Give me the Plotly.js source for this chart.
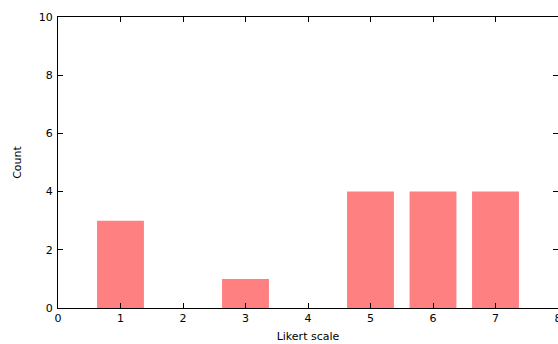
<!DOCTYPE html>
<html>
<head>
<meta charset="utf-8">
<script src="https://cdn.plot.ly/plotly-3.0.1.min.js"></script>
<style>html,body{margin:0;padding:0;background:#fff;overflow:hidden;}#chart{width:558px;height:344px;}</style>
</head>
<body>
<div id="chart"></div>
<script>
const likert = [1, 2, 3, 4, 5, 6, 7];
const counts = [3, 0, 1, 0, 4, 4, 4];
const xTicks = [0, 1, 2, 3, 4, 5, 6, 7, 8];
const yTicks = [0, 2, 4, 6, 8, 10];

const fontFam = 'DejaVu Sans, sans-serif';
Plotly.newPlot('chart', [{
  type: 'bar',
  x: likert,
  y: counts,
  width: 0.75,
  marker: {color: '#ff8080', line: {width: 0}},
  hoverinfo: 'none',
  cliponaxis: false
}], {
  width: 558, height: 344,
  margin: {l: 58, r: 0, t: 17, b: 36, pad: 0},
  paper_bgcolor: '#fff', plot_bgcolor: '#fff',
  showlegend: false,
  font: {family: fontFam, size: 11, color: '#000'},
  xaxis: {
    range: [0, 8], tickvals: xTicks, ticktext: xTicks.map(String),
    ticks: 'inside', ticklen: 5, tickwidth: 1, tickcolor: '#000',
    showline: true, linecolor: '#000', linewidth: 1, mirror: 'ticks',
    showgrid: false, zeroline: false, ticklabeloverflow: 'allow',
    title: {text: 'Likert scale', font: {family: fontFam, size: 11, color: '#000'}, standoff: 8}
  },
  yaxis: {
    range: [0, 10], tickvals: yTicks, ticktext: yTicks.map(String),
    ticks: 'inside', ticklen: 5, tickwidth: 1, tickcolor: '#000',
    showline: true, linecolor: '#000', linewidth: 1, mirror: 'ticks',
    showgrid: false, zeroline: false, ticklabelstandoff: 2,
    title: {text: 'Count', font: {family: fontFam, size: 11, color: '#000'}, standoff: 14}
  }
}, {staticPlot: true, displayModeBar: false});
</script>
</body>
</html>
